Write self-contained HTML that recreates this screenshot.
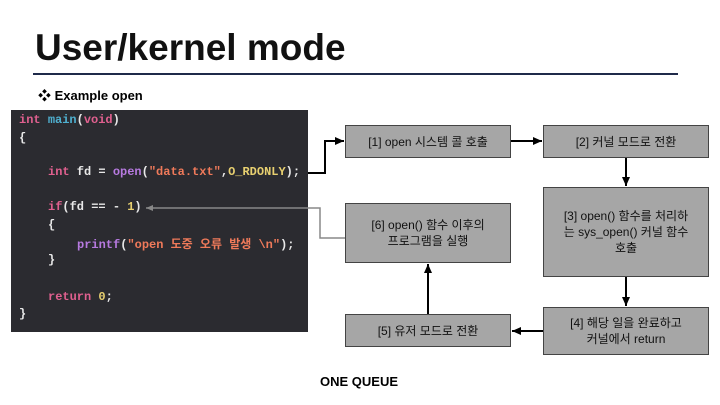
<!DOCTYPE html>
<html><head><meta charset="utf-8"><style>
body{margin:0;width:720px;height:405px;background:#fff;position:relative;overflow:hidden;font-family:"Liberation Sans","Noto Sans CJK KR",sans-serif}
.t{position:absolute;left:35px;top:27px;font-size:37px;font-weight:bold;color:#111}
.hr{position:absolute;left:33px;top:73px;width:645px;height:2px;background:#1f2a4a}
.ex{position:absolute;left:38px;top:85px;font-size:13px;font-weight:bold}
.code{position:absolute;left:11px;top:110px;width:297px;height:222px;background:#2b2b30;font-family:"Liberation Mono","Noto Sans CJK KR",monospace;font-size:12px;font-weight:bold;color:#e8e8e8}
.code div{position:absolute;white-space:pre}
.k{color:#e0608f}.f{color:#b77ae0}.s{color:#f07a5a}.n{color:#e8d070}.b{color:#4fb0d0}
.bx{position:absolute;background:#a6a6a6;border:1px solid #444;box-sizing:border-box;display:flex;align-items:center;justify-content:center;text-align:center;font-size:12px;line-height:16px;color:#111}
.oq{position:absolute;left:320px;top:374px;font-size:13px;font-weight:bold}
</style></head><body>
<div class="t">User/kernel mode</div>
<div class="hr"></div>
<div class="ex">❖ Example open</div>
<div class="code">
<div style="left:8px;top:3px"><span class="k">int</span> <span class="b">main</span>(<span class="k">void</span>)</div>
<div style="left:8px;top:21px">{</div>
<div style="left:37px;top:55px"><span class="k">int</span> fd = <span class="f">open</span>(<span class="s">"data.txt"</span>,<span class="n">O_RDONLY</span>);</div>
<div style="left:37px;top:90px"><span class="k">if</span>(fd == - <span class="n">1</span>)</div>
<div style="left:37px;top:108px">{</div>
<div style="left:66px;top:125px"><span class="f">printf</span>(<span class="s">"open 도중 오류 발생 \n"</span>);</div>
<div style="left:37px;top:143px">}</div>
<div style="left:37px;top:180px"><span class="k">return</span> <span class="n">0</span>;</div>
<div style="left:8px;top:197px">}</div>
</div>
<svg width="720" height="405" style="position:absolute;left:0;top:0">
<defs><marker id="a" markerUnits="userSpaceOnUse" markerWidth="10" markerHeight="10" refX="9" refY="5" orient="auto"><path d="M0,1L9,5L0,9z" fill="#000"/></marker>
<marker id="g" markerUnits="userSpaceOnUse" markerWidth="8" markerHeight="8" refX="7" refY="4" orient="auto"><path d="M0,1L7,4L0,7z" fill="#888"/></marker></defs>
<polyline points="308,173 325,173 325,141 344,141" fill="none" stroke="#000" stroke-width="2" marker-end="url(#a)"/>
<polyline points="345,238 320,238 320,208 146,208" fill="none" stroke="#888" stroke-width="1.5" marker-end="url(#g)"/>
<line x1="511" y1="141" x2="542" y2="141" stroke="#000" stroke-width="2" marker-end="url(#a)"/>
<line x1="626" y1="158" x2="626" y2="186" stroke="#000" stroke-width="2" marker-end="url(#a)"/>
<line x1="626" y1="277" x2="626" y2="306" stroke="#000" stroke-width="2" marker-end="url(#a)"/>
<line x1="543" y1="331" x2="512" y2="331" stroke="#000" stroke-width="2" marker-end="url(#a)"/>
<line x1="428" y1="314" x2="428" y2="264" stroke="#000" stroke-width="2" marker-end="url(#a)"/>
</svg>
<div class="bx" style="left:345px;top:125px;width:166px;height:33px">[1] open 시스템 콜 호출</div>
<div class="bx" style="left:543px;top:125px;width:166px;height:33px">[2] 커널 모드로 전환</div>
<div class="bx" style="left:543px;top:187px;width:166px;height:90px">[3] open() 함수를 처리하<br>는 sys_open() 커널 함수<br>호출</div>
<div class="bx" style="left:543px;top:307px;width:166px;height:48px">[4] 해당 일을 완료하고<br>커널에서 return</div>
<div class="bx" style="left:345px;top:314px;width:166px;height:33px">[5] 유저 모드로 전환</div>
<div class="bx" style="left:345px;top:203px;width:166px;height:60px">[6] open() 함수 이후의<br>프로그램을 실행</div>
<div class="oq">ONE QUEUE</div>
</body></html>
